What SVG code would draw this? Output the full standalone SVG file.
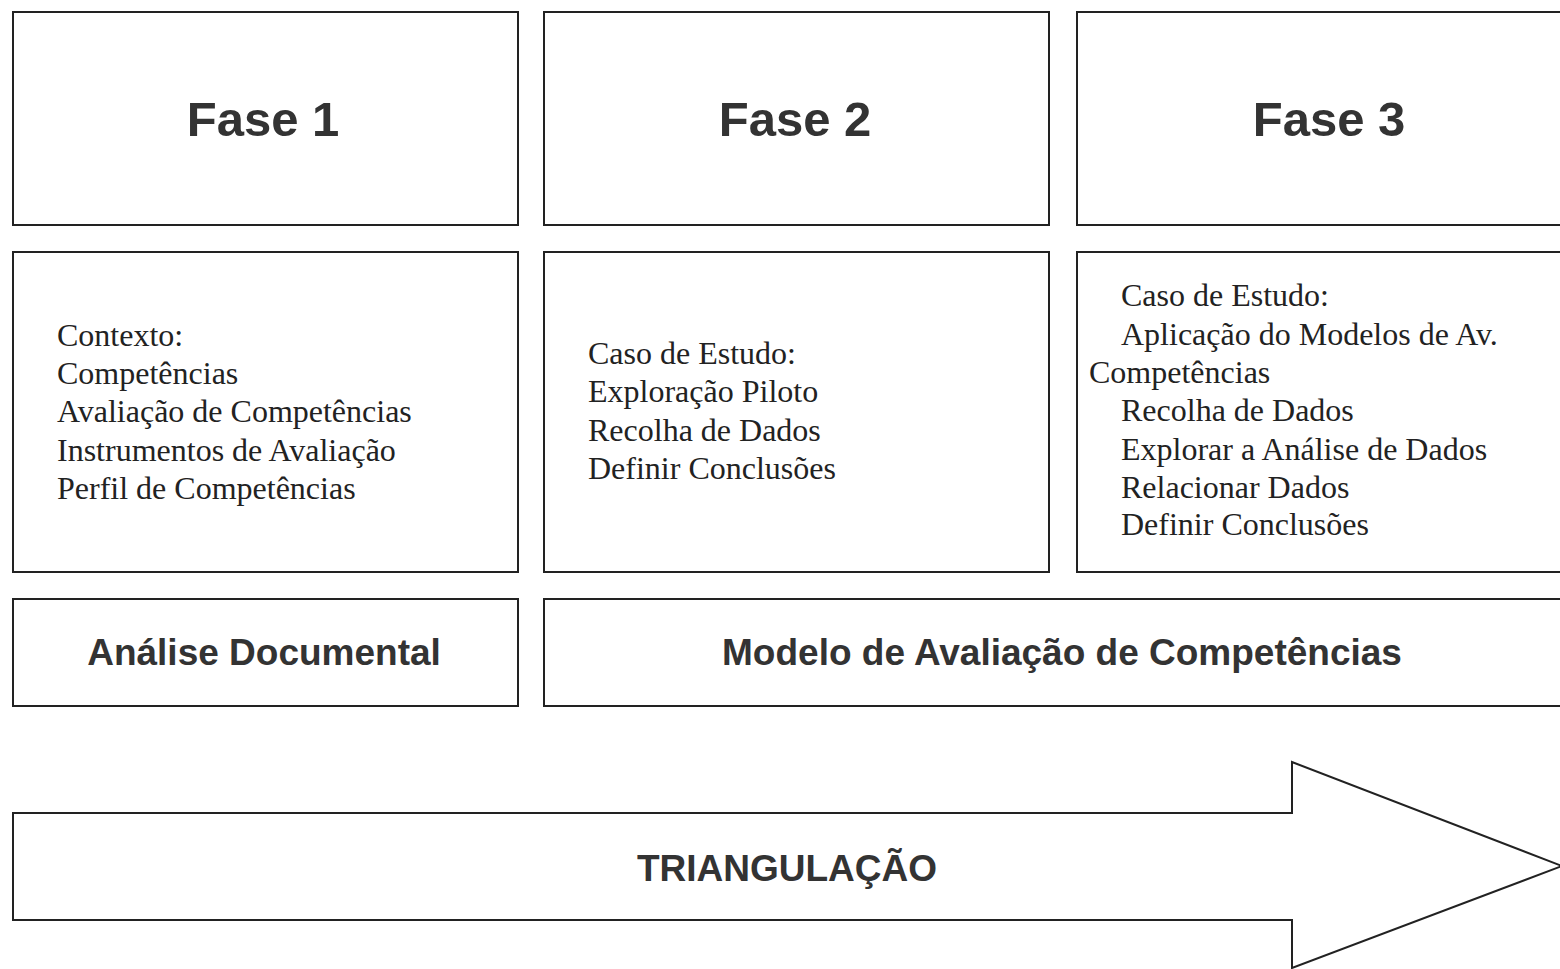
<svg xmlns="http://www.w3.org/2000/svg" width="1560" height="969" viewBox="0 0 1560 969">
<style>
.box{fill:#fff;stroke:#222;stroke-width:2}
.h{font-family:"Liberation Sans",Arial,sans-serif;font-weight:bold;fill:#333;text-anchor:middle}
.t{font-family:"Liberation Serif","Times New Roman",serif;font-size:32px;fill:#222}
</style>
<rect width="1560" height="969" fill="#fff"/>
<g id="fase1"><rect class="box" x="13" y="12" width="505" height="213"/><text class="h" x="263" y="136" font-size="49">Fase 1</text></g>
<g id="fase2"><rect class="box" x="544" y="12" width="505" height="213"/><text class="h" x="795" y="136" font-size="49">Fase 2</text></g>
<g id="fase3"><rect class="box" x="1077" y="12" width="505" height="213"/><text class="h" x="1329" y="136" font-size="49">Fase 3</text></g>
<g id="conteudo1"><rect class="box" x="13" y="252" width="505" height="320"/>
<text class="t" x="57" y="346">Contexto:</text>
<text class="t" x="57" y="384">Competências</text>
<text class="t" x="57" y="422">Avaliação de Competências</text>
<text class="t" x="57" y="461">Instrumentos de Avaliação</text>
<text class="t" x="57" y="499">Perfil de Competências</text></g>
<g id="conteudo2"><rect class="box" x="544" y="252" width="505" height="320"/>
<text class="t" x="588" y="364">Caso de Estudo:</text>
<text class="t" x="588" y="402">Exploração Piloto</text>
<text class="t" x="588" y="441">Recolha de Dados</text>
<text class="t" x="588" y="479">Definir Conclusões</text></g>
<g id="conteudo3"><rect class="box" x="1077" y="252" width="505" height="320"/>
<text class="t" x="1121" y="306">Caso de Estudo:</text>
<text class="t" x="1121" y="345">Aplicação do Modelos de Av.</text>
<text class="t" x="1089" y="383">Competências</text>
<text class="t" x="1121" y="421">Recolha de Dados</text>
<text class="t" x="1121" y="460">Explorar a Análise de Dados</text>
<text class="t" x="1121" y="498">Relacionar Dados</text>
<text class="t" x="1121" y="535">Definir Conclusões</text></g>
<g id="analise"><rect class="box" x="13" y="599" width="505" height="107"/><text class="h" x="264" y="665" font-size="37">Análise Documental</text></g>
<g id="modelo"><rect class="box" x="544" y="599" width="1040" height="107"/><text class="h" x="1062" y="665" font-size="37">Modelo de Avaliação de Competências</text></g>
<g id="triangulacao"><path class="box" d="M13 813 H1292 V762 L1562 866 L1292 968 V920 H13 Z"/><text class="h" x="787" y="881" font-size="37">TRIANGULAÇÃO</text></g>
<g id="connectors"></g>
</svg>
